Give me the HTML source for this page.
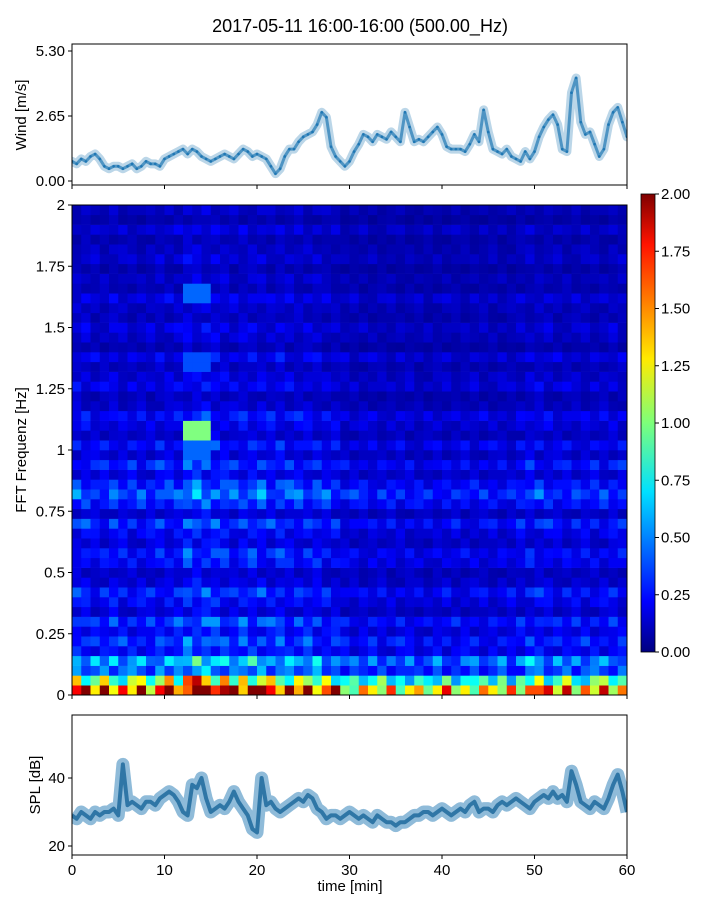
<!DOCTYPE html>
<html><head><meta charset="utf-8">
<style>
body{margin:0;background:#fff;font-family:"Liberation Sans",sans-serif;}
svg text{font-family:"Liberation Sans",sans-serif;fill:#000;}
</style></head>
<body>
<svg id="fig" width="720" height="900" viewBox="0 0 720 900" xmlns="http://www.w3.org/2000/svg">
<defs>
<linearGradient id="jet" x1="0" y1="1" x2="0" y2="0">
<stop offset="0" stop-color="#000080"/><stop offset="0.11" stop-color="#0000ff"/>
<stop offset="0.35" stop-color="#00e0ff"/><stop offset="0.5" stop-color="#7dff7a"/>
<stop offset="0.64" stop-color="#ffea00"/><stop offset="0.89" stop-color="#ff1300"/>
<stop offset="1" stop-color="#800000"/></linearGradient>
<clipPath id="clipW"><rect x="72" y="44" width="555" height="141"/></clipPath>
<clipPath id="clipS"><rect x="72" y="715" width="555" height="140"/></clipPath>
</defs>
<text x="360" y="32" font-size="18" text-anchor="middle">2017-05-11 16:00-16:00 (500.00_Hz)</text>
<g id="wind"></g>
<g id="spec"></g>
<g id="cbar"></g>
<g id="spl"></g>
</svg>
<script>
// ---- data ----
const windTimes = [];for(let i=0;i<=120;i++)windTimes.push(i*0.5);
const windValues = [0.8,0.7,0.9,0.8,1.0,1.1,0.9,0.6,0.5,0.6,0.6,0.5,0.6,0.7,0.5,0.6,0.8,0.7,0.7,0.6,0.9,1.0,1.1,1.2,1.3,1.1,1.3,1.2,1.0,0.9,0.8,0.9,1.0,1.1,1.0,0.9,1.1,1.3,1.2,1.0,1.1,1.0,0.9,0.6,0.3,0.5,1.0,1.3,1.3,1.6,1.8,1.9,2.0,2.3,2.8,2.6,1.4,1.0,0.8,0.6,0.8,1.2,1.5,1.9,1.8,1.6,1.9,1.8,1.7,2.0,1.8,1.6,2.8,2.2,1.6,1.7,1.6,1.8,2.0,2.2,1.9,1.4,1.3,1.3,1.3,1.2,1.5,1.9,1.6,2.9,2.0,1.3,1.2,1.1,1.3,1.0,0.9,0.8,1.2,0.9,1.2,1.8,2.2,2.5,2.7,2.3,1.3,1.2,3.6,4.2,2.4,1.9,2.0,1.5,1.0,1.3,2.3,2.8,3.0,2.4,1.8];
const splValues = [29,28,30,29,28,30,29,30,30,31,29,44,32,33,32,31,33,33,32,34,35,36,35,33,30,29,38,37,40,34,30,31,32,31,33,36,33,31,29,25,24,40,32,33,31,30,31,32,33,34,33,35,34,31,30,28,29,29,28,29,30,29,28,29,28,27,29,28,27,27,26,27,27,28,29,29,30,30,29,30,31,30,29,30,31,30,32,33,30,31,31,30,32,33,32,33,34,33,32,31,33,34,35,34,36,34,35,33,42,38,33,32,31,33,32,31,34,38,41,36,30];
const freqProfile = [1.6,0.8,0.5,0.42,0.36,0.3,0.28,0.25,0.23,0.22,0.21,0.21,0.2,0.2,0.21,0.21,0.21,0.22,0.22,0.24,0.28,0.3,0.26,0.22,0.2,0.21,0.2,0.19,0.18,0.17,0.16,0.16,0.16,0.15,0.15,0.14,0.14,0.14,0.14,0.13,0.13,0.13,0.13,0.13,0.12,0.12,0.12,0.12,0.12,0.12];
const timeProfile = [1.1,1.1,1.0,1.0,1.1,1.0,1.0,1.0,1.0,1.1,1.1,1.1,1.4,1.4,1.4,1.3,1.2,1.1,1.2,1.2,1.2,1.1,1.2,1.1,1.1,1.1,1.1,1.0,1.0,0.8,0.8,0.8,0.8,0.8,0.8,0.8,0.8,0.75,0.75,0.8,0.8,0.8,0.8,0.8,0.8,0.8,0.8,0.8,0.9,1.0,1.0,0.95,0.9,0.9,0.9,0.9,0.9,0.9,0.95,0.95];
const rowVar = [1.0,1.2,0.8,1.3,0.7,1.1,0.8,1.3,0.7,1.0,1.4,0.8,0.7,1.2,1.3,0.8,1.0,1.4,0.7,1.2,1.4,1.0,0.7,1.3,0.8,1.2,0.7,1.0,1.3,0.8,0.7,1.2,1.0,0.8,1.3,0.7,1.0,1.2,0.8,1.0,1.4,0.8,1.0,0.7,1.2,1.0,0.8,1.3,0.7,1.0];
const hotspots = [[12,15,1.08,1.1,1.0],[12,15,1.0,1.02,0.45],[12,15,1.64,1.66,0.45],[12,15,1.36,1.38,0.4]];
const windTicks=[0,2.65,5.3], windTickLabels=["0.00","2.65","5.30"];
const specTicks=[0,0.25,0.5,0.75,1,1.25,1.5,1.75,2], specTickLabels=["0","0.25","0.5","0.75","1","1.25","1.5","1.75","2"];
const cbTicks=[0,0.25,0.5,0.75,1,1.25,1.5,1.75,2];
const splTicks=[20,40], xTicks=[0,10,20,30,40,50,60];
// ---- helpers ----
const NS="http://www.w3.org/2000/svg";
function mk(p,t,a){const e=document.createElementNS(NS,t);for(const k in a)e.setAttribute(k,a[k]);p.appendChild(e);return e;}
const X0=72,X1=627;const xs=t=>X0+(t/60)*(X1-X0);
const yW=v=>181-v*(130/5.3);
const yF=f=>695-f*(490/2);
const yS=v=>846-(v-20)*3.4;
const yC=v=>652-v*(458/2);
function jet(v){v=Math.max(0,Math.min(1,v));
 const c=(x)=>Math.max(0,Math.min(1,x));
 const r=c(1.5-Math.abs(4*v-3)),g=c(1.5-Math.abs(4*v-2)),b=c(1.5-Math.abs(4*v-1));
 return `rgb(${Math.round(r*255)},${Math.round(g*255)},${Math.round(b*255)})`;}
function axisBox(g,y0,y1){const r=mk(g,'rect',{x:X0,y:y0,width:X1-X0,height:y1-y0,fill:'none',stroke:'#000','stroke-width':1});
 }
function yTick(g,y,label){mk(g,'line',{x1:X0-4,x2:X0,y1:y,y2:y,stroke:'#000'});
 const t=mk(g,'text',{x:X0-7,y:y+5,'font-size':15,'text-anchor':'end'});t.textContent=label;
 }
function xTickMarks(g,y,labels){xTicks.forEach(v=>{mk(g,'line',{x1:xs(v),x2:xs(v),y1:y,y2:y+4,stroke:'#000'});
 if(labels){const t=mk(g,'text',{x:xs(v),y:y+20,'font-size':15,'text-anchor':'middle'});t.textContent=v;
 }});}
// ---- wind ----
const gw=document.getElementById('wind');
const gwc=mk(gw,'g',{'clip-path':'url(#clipW)'});
let pts=windValues.map((v,i)=>xs(windTimes[i])+','+yW(v)).join(' ');
const wl=mk(gwc,'polyline',{points:pts,fill:'none',stroke:'#1f77b4','stroke-width':9,'stroke-opacity':0.3,'stroke-linejoin':'round','stroke-linecap':'round'});

const wl3=mk(gwc,'polyline',{points:pts,fill:'none',stroke:'#1f77b4','stroke-width':3,'stroke-opacity':0.7,'stroke-linejoin':'round'});

windValues.forEach((v,i)=>{const c=mk(gwc,'circle',{cx:xs(windTimes[i]),cy:yW(v),r:1.3,fill:'#1f77b4'});
 });
axisBox(gw,44,185);windTicks.forEach((v,i)=>yTick(gw,yW(v),windTickLabels[i]));xTickMarks(gw,185,false);
let yl=mk(gw,'text',{x:26,y:115,'font-size':15,'text-anchor':'middle',transform:'rotate(-90 26 115)'});yl.textContent='Wind [m/s]';

// ---- spectrogram ----
const gs=document.getElementById('spec');
const df=2/freqProfile.length;
for(let t=0;t<timeProfile.length;t++){for(let f=0;f<freqProfile.length;f++){
 let v=freqProfile[f]*timeProfile[t]*rowVar[f]*rowVar[(f*7+t)%rowVar.length];
 const fc=f*df+df/2;
 hotspots.forEach(h=>{if(t>=h[0]&&t<h[1]&&fc>=h[2]-df/2&&fc<=h[3]+df/2)v=Math.max(v,h[4]);});
 const r=mk(gs,'rect',{x:xs(t),y:yF((f+1)*df),width:xs(t+1)-xs(t)+0.3,height:yF(f*df)-yF((f+1)*df)+0.3,fill:jet(v/2)});
 }}
axisBox(gs,205,695);specTicks.forEach((v,i)=>yTick(gs,yF(v),specTickLabels[i]));xTickMarks(gs,695,false);
yl=mk(gs,'text',{x:26,y:450,'font-size':15,'text-anchor':'middle',transform:'rotate(-90 26 450)'});yl.textContent='FFT Frequenz [Hz]';

// ---- colorbar ----
const gc=document.getElementById('cbar');
const cr=mk(gc,'rect',{x:641,y:194,width:14,height:458,fill:'url(#jet)',stroke:'#000','stroke-width':0.8});

cbTicks.forEach(v=>{mk(gc,'line',{x1:655,x2:659,y1:yC(v),y2:yC(v),stroke:'#000'});
 const t=mk(gc,'text',{x:661,y:yC(v)+5,'font-size':15});t.textContent=v.toFixed(2);
 });
// ---- SPL ----
const gp=document.getElementById('spl');
const gpc=mk(gp,'g',{'clip-path':'url(#clipS)'});
pts=splValues.map((v,i)=>xs(i*0.5)+','+yS(v)).join(' ');
const sb=mk(gpc,'polyline',{points:pts,fill:'none',stroke:'#1f77b4','stroke-width':13,'stroke-opacity':0.5,'stroke-linejoin':'round'});

const sl=mk(gpc,'polyline',{points:pts,fill:'none',stroke:'#1f6a9c','stroke-width':4,'stroke-opacity':0.85,'stroke-linejoin':'round'});

axisBox(gp,715,855);splTicks.forEach(v=>yTick(gp,yS(v),String(v)));xTickMarks(gp,855,true);
yl=mk(gp,'text',{x:40,y:785,'font-size':15,'text-anchor':'middle',transform:'rotate(-90 40 785)'});yl.textContent='SPL [dB]';

const xl=mk(gp,'text',{x:350,y:891,'font-size':15,'text-anchor':'middle'});xl.textContent='time [min]';

</script>
</body></html>
